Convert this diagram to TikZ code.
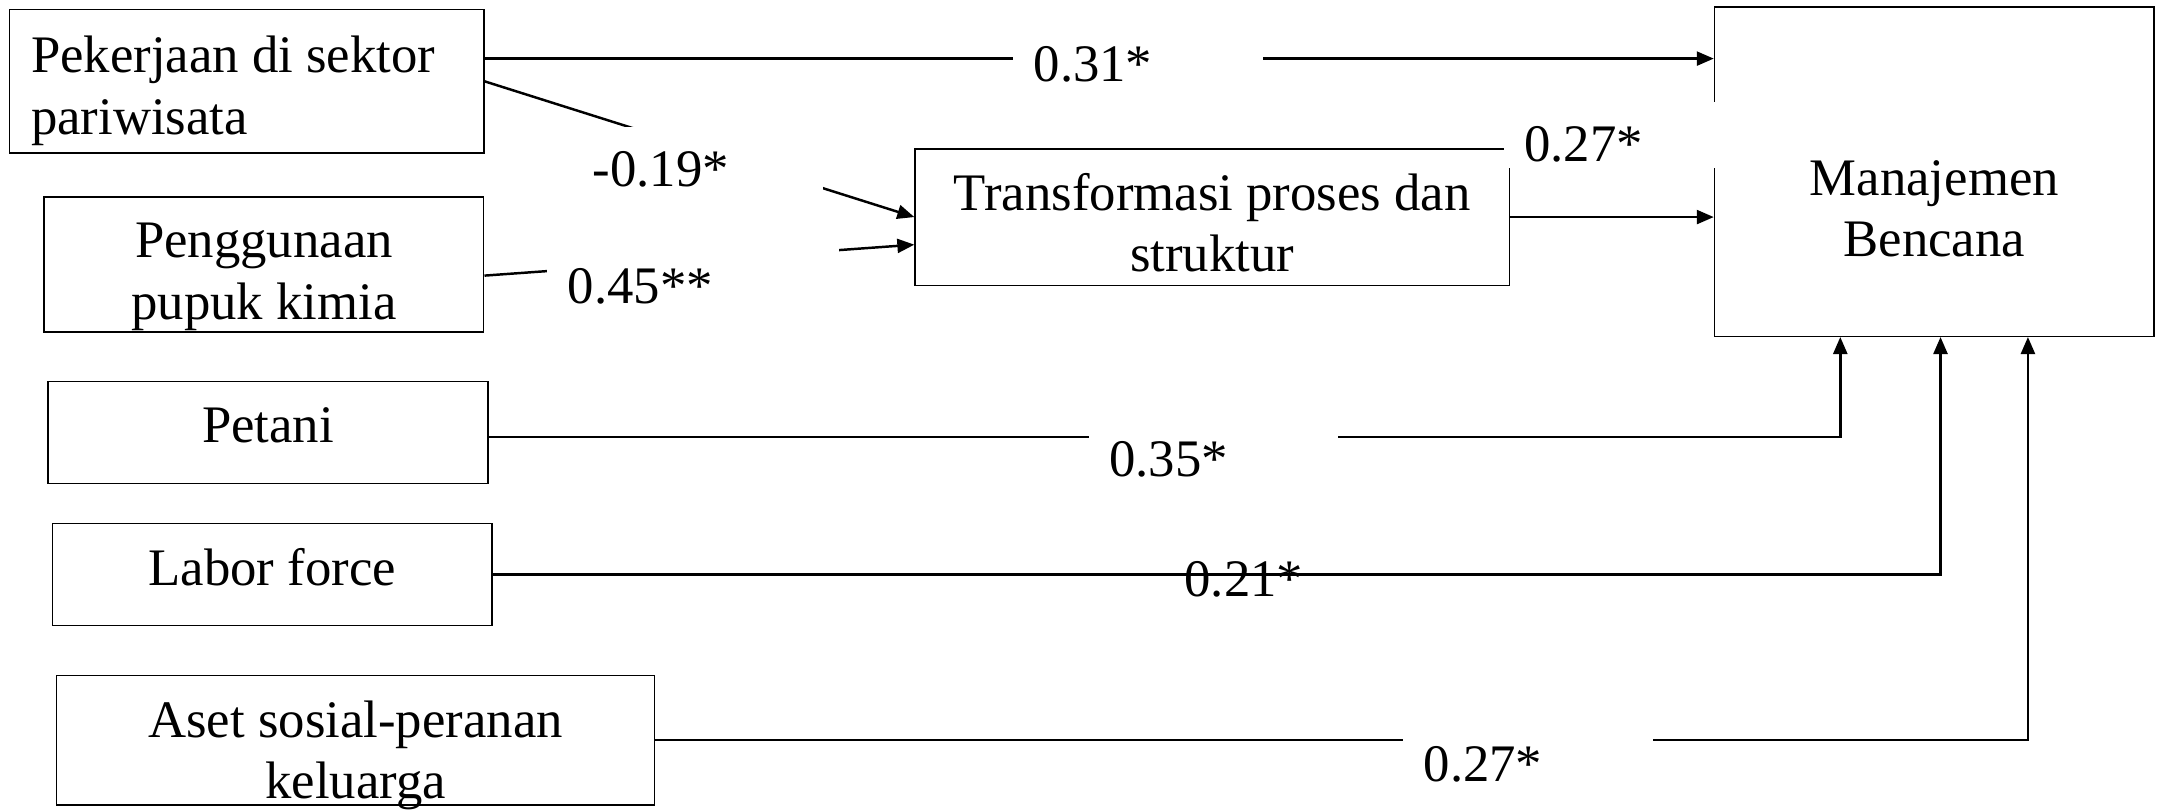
\documentclass[tikz,border=0pt]{standalone}
\usepackage{fontspec}
\setmainfont{Liberation Serif}
\usetikzlibrary{arrows.meta}

\begin{document}
\begin{tikzpicture}[x=0.013782cm, y=-0.013782cm,
		every node/.style={font=\fontsize{15}{17.5}\selectfont, inner sep=0pt},
		box/.style={draw, line width=0.4pt},
		conn/.style={line width=0.7pt, -{Triangle[length=1.7mm, width=1.4mm]}},
		lbl/.style={fill=white, align=left, inner xsep=0.207cm, inner ysep=0pt, text height=0.593cm, text depth=0.069cm}]
				\useasboundingbox (0,0) rectangle (1568,588);
				\node[box, minimum width=4.741cm, minimum height=1.433cm] (pek) at (179, 59) {};
				\node[box, minimum width=4.396cm, minimum height=1.351cm] (peng) at (191.5, 192) {};
				\node[box, minimum width=4.396cm, minimum height=1.020cm] (petani) at (194.5, 314) {};
				\node[box, minimum width=4.396cm, minimum height=1.020cm] (labor) at (197.5, 417) {};
				\node[box, minimum width=5.981cm, minimum height=1.296cm] (aset) at (258, 537) {};
				\node[box, minimum width=5.940cm, minimum height=1.364cm] (trans) at (879.5, 157.5) {};
				\node[box, minimum width=4.396cm, minimum height=3.294cm] (man) at (1403.5, 124.5) {};
				\node[align=left, anchor=west] (pektxt) at (22, 66) {Pekerjaan di sektor\\pariwisata};
				\node[align=center] (pengtxt) at (191.5, 201) {Penggunaan\\pupuk kimia};
				\node[anchor=base] (petanitxt) at (194.5, 321) {Petani};
				\node[anchor=base] (labortxt) at (197.5, 424.5) {Labor force};
				\node[align=center] (asettxt) at (258, 548) {Aset sosial-peranan\\keluarga};
				\node[align=center] (transtxt) at (879.5, 161.5) {Transformasi proses dan\\struktur};
				\node[align=center] (mantxt) at (1403.5, 151.5) {Manajemen\\Bencana};
				\coordinate (a31) at ([yshift=0.227cm]pek.east);
				\draw[conn] (a31) -- (a31 -| man.west);
				\draw[conn] (pek.east) -- (trans.west);
				\draw[conn] ([yshift=-0.110cm]peng.east) -- ([yshift=-0.276cm]trans.west);
				\draw[conn] (trans.east) -- (trans.east -| man.west);
				\draw[conn] ([yshift=-0.041cm]petani.east) -| ([xshift=-0.940cm]man.south);
				\draw[conn] (labor.east) -| ([xshift=0.062cm]man.south);
				\draw[conn] (aset.east) -| ([xshift=0.936cm]man.south);
				\node[lbl, text width=2.081cm] (l31) at (825.5, 40) {0.31*};
				\node[lbl, text width=2.094cm] (l19) at (506, 116) {-0.19*};
				\node[lbl, text width=2.508cm] (l45) at (503, 201) {0.45**};
				\node[lbl, text width=1.915cm] (l27t) at (1175.5, 98) {0.27*};
				\node[lbl, text width=2.081cm] (l35) at (880.5, 327) {0.35*};
				\node[anchor=base west] (l21) at (859, 433) {0.21*};
				\node[lbl, text width=2.081cm] (l27b) at (1108.5, 548) {0.27*};
		\end{tikzpicture}
\end{document}
